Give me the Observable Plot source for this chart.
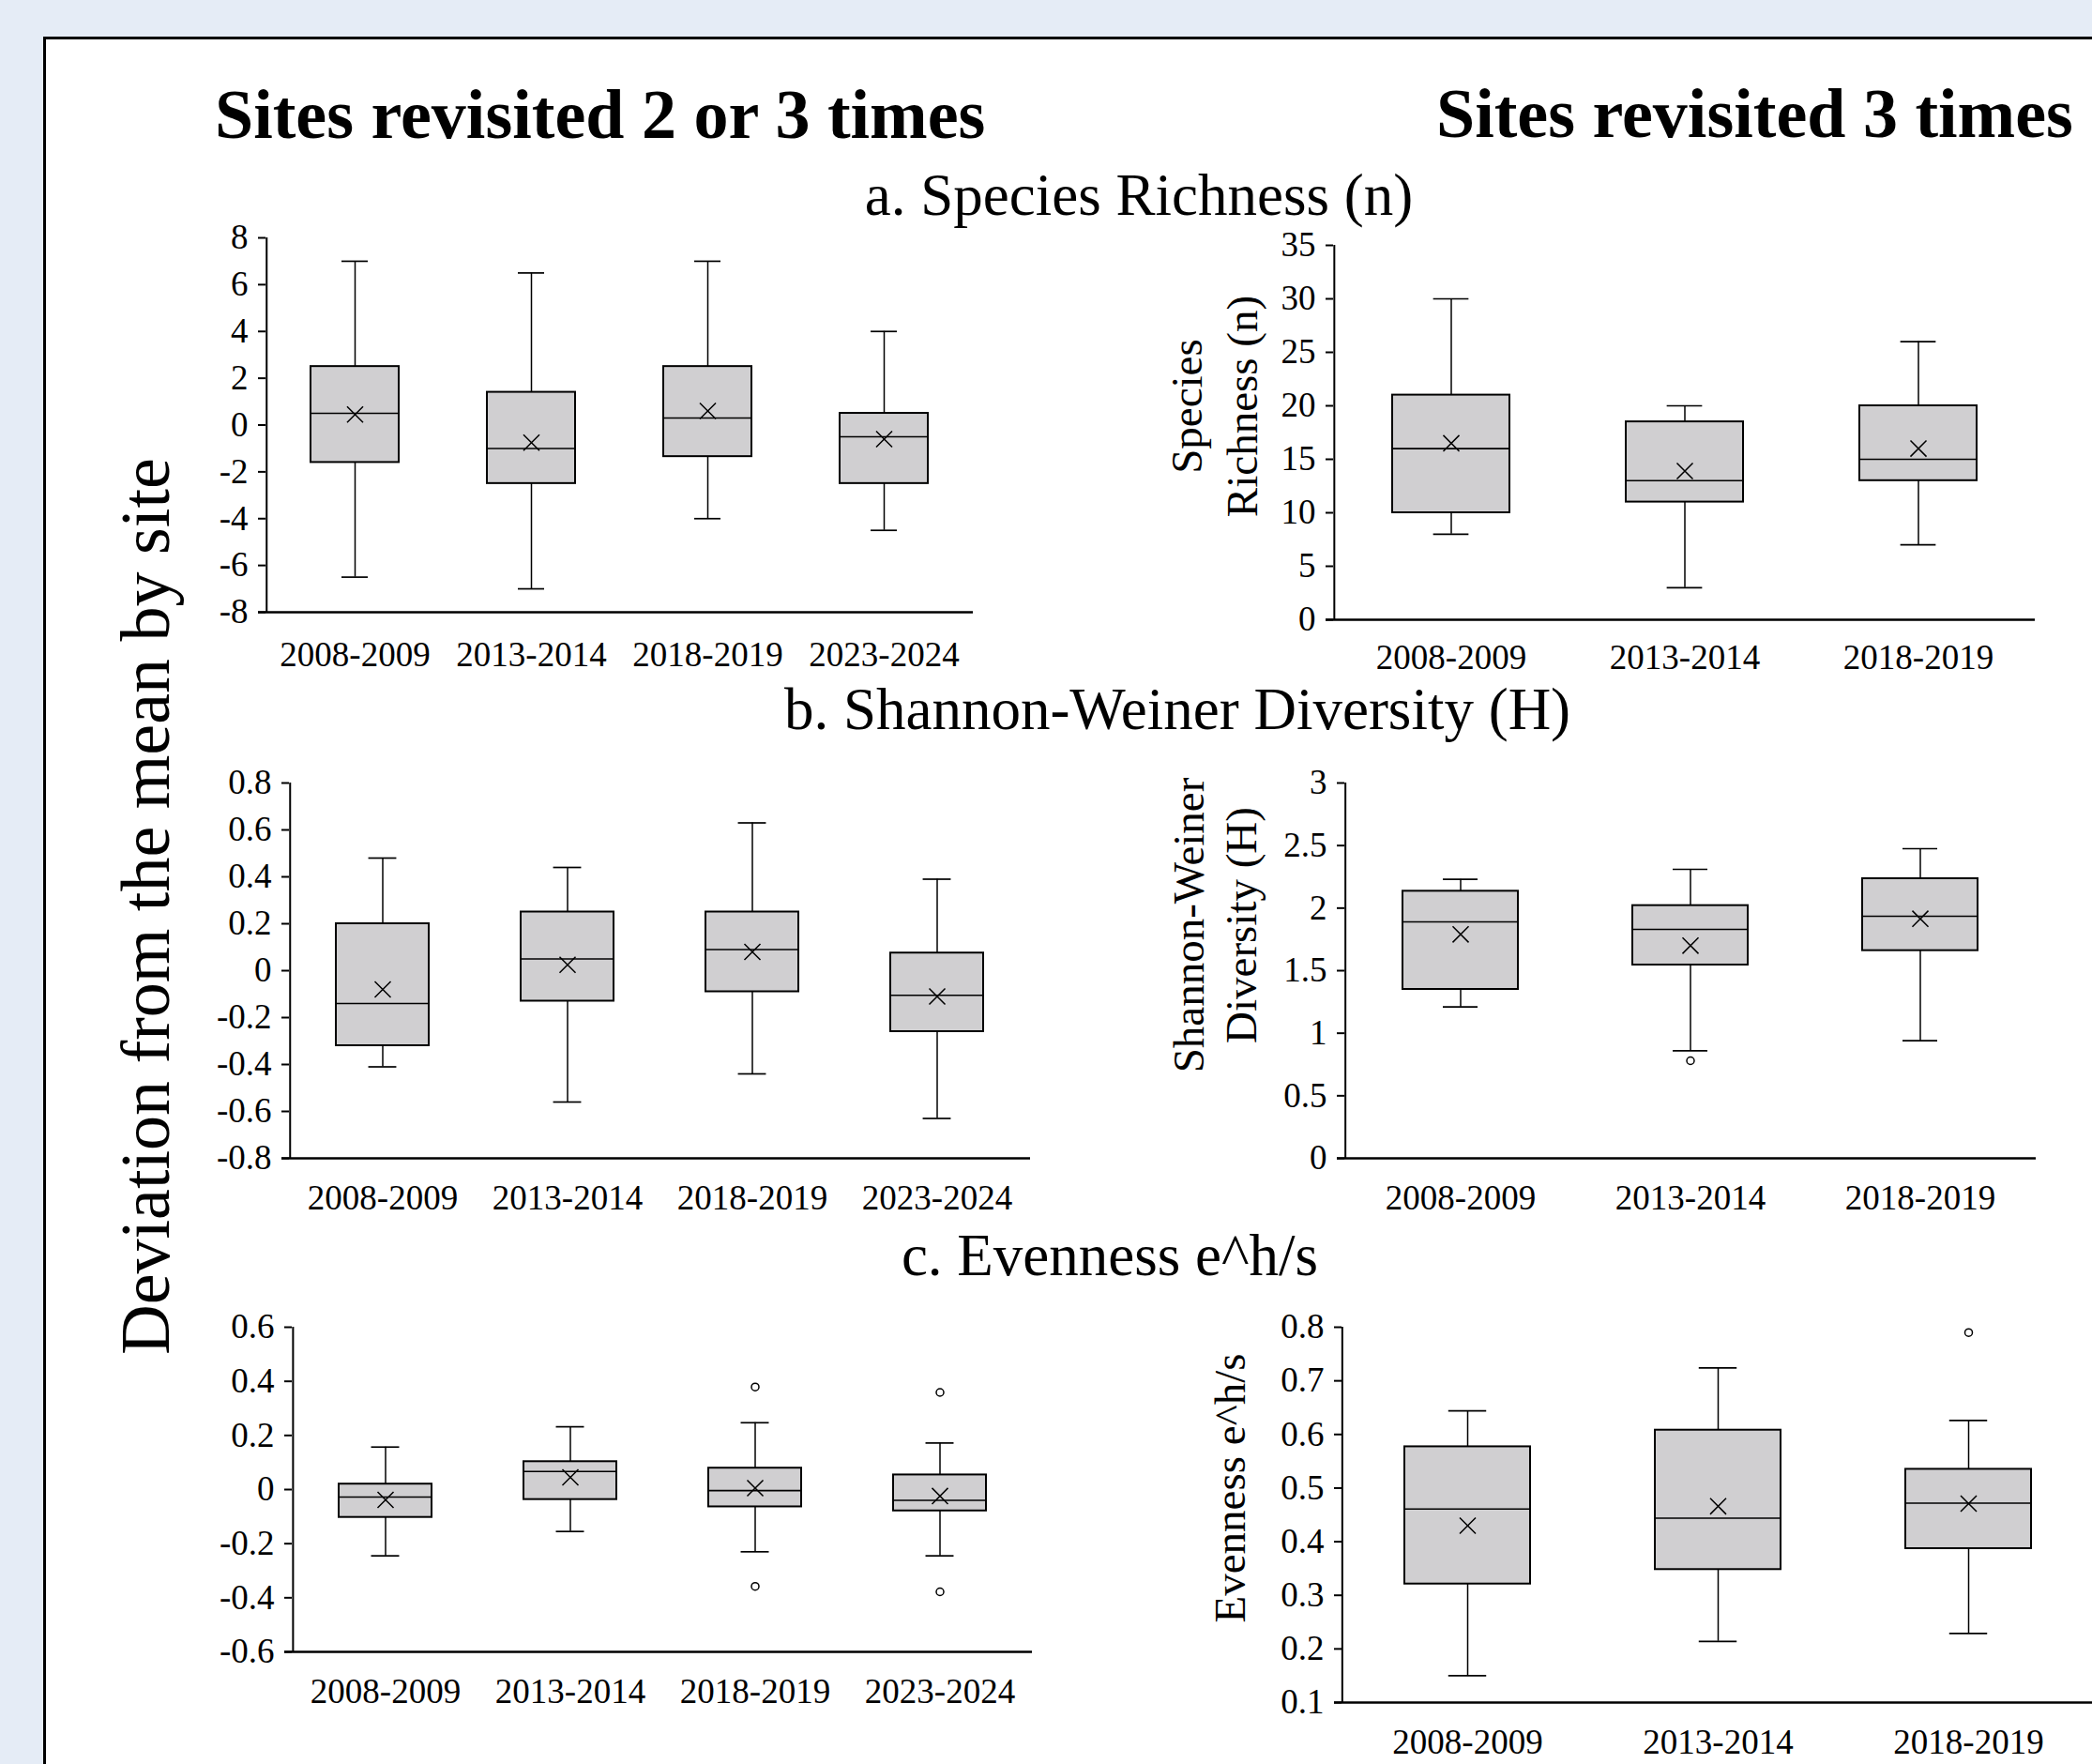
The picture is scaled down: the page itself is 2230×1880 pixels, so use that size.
<!DOCTYPE html>
<html><head><meta charset="utf-8">
<script src="https://cdn.jsdelivr.net/npm/d3@7"></script>
<script src="https://cdn.jsdelivr.net/npm/@observablehq/plot@0.6"></script>
<style>
html,body{margin:0;padding:0;overflow:hidden;background:#e5ecf6;width:2230px;height:1880px;position:relative;}
#frame{position:absolute;left:46px;top:39px;width:2400px;height:2100px;background:#fff;border:3px solid #000;box-sizing:border-box;}
.panel{position:absolute;}
#overlay{position:absolute;left:0;top:0;pointer-events:none;}
</style></head><body>
<div id="frame"></div>
<div id="panels"></div>
<svg id="overlay" width="2230" height="1880"></svg>
<script>
// ---------- DATA ----------
const periods4 = ["2008-2009", "2013-2014", "2018-2019", "2023-2024"];
const periods3 = ["2008-2009", "2013-2014", "2018-2019"];

// a. Species richness — deviation from site mean (sites revisited 2 or 3 times)
const richDev = {
  low:    [-6.5, -7, -4, -4.5],
  q1:     [-1.6, -2.5, -1.35, -2.5],
  median: [0.5, -1, 0.3, -0.5],
  q3:     [2.5, 1.4, 2.5, 0.5],
  high:   [7, 6.5, 7, 4],
  mean:   [0.45, -0.75, 0.6, -0.6]
};
const richDevOutliers = [];
const richDevTicks = [-8, -6, -4, -2, 0, 2, 4, 6, 8];

// a. Species richness (sites revisited 3 times)
const rich3 = {
  low:    [8, 3, 7],
  q1:     [10, 11, 13],
  median: [16, 13, 15],
  q3:     [21, 18.5, 20],
  high:   [30, 20, 26],
  mean:   [16.5, 13.9, 16.0]
};
const rich3Outliers = [];
const rich3Ticks = [0, 5, 10, 15, 20, 25, 30, 35];

// b. Shannon-Weiner diversity — deviation
const shanDev = {
  low:    [-0.41, -0.56, -0.44, -0.63],
  q1:     [-0.32, -0.13, -0.09, -0.26],
  median: [-0.14, 0.05, 0.09, -0.105],
  q3:     [0.2, 0.25, 0.25, 0.075],
  high:   [0.48, 0.44, 0.63, 0.39],
  mean:   [-0.08, 0.025, 0.08, -0.11]
};
const shanDevOutliers = [];
const shanDevTicks = [-0.8, -0.6, -0.4, -0.2, 0, 0.2, 0.4, 0.6, 0.8];

// b. Shannon-Weiner diversity (sites revisited 3 times)
const shan3 = {
  low:    [1.21, 0.86, 0.94],
  q1:     [1.35, 1.545, 1.66],
  median: [1.89, 1.83, 1.935],
  q3:     [2.135, 2.02, 2.235],
  high:   [2.23, 2.31, 2.475],
  mean:   [1.79, 1.70, 1.915]
};
const shan3Outliers = [{period: "2013-2014", value: 0.78}];
const shan3Ticks = [0, 0.5, 1, 1.5, 2, 2.5, 3];

// c. Evenness — deviation
const evenDev = {
  low:    [-0.245, -0.155, -0.23, -0.245],
  q1:     [-0.103, -0.037, -0.064, -0.079],
  median: [-0.028, 0.067, -0.004, -0.04],
  q3:     [0.02, 0.103, 0.079, 0.054],
  high:   [0.157, 0.232, 0.247, 0.172],
  mean:   [-0.038, 0.045, 0.005, -0.024]
};
const evenDevOutliers = [
  {period: "2018-2019", value: 0.379}, {period: "2018-2019", value: -0.358},
  {period: "2023-2024", value: 0.359}, {period: "2023-2024", value: -0.378}
];
const evenDevTicks = [-0.6, -0.4, -0.2, 0, 0.2, 0.4, 0.6];

// c. Evenness (sites revisited 3 times)
const even3 = {
  low:    [0.15, 0.214, 0.229],
  q1:     [0.321, 0.348, 0.387],
  median: [0.461, 0.444, 0.472],
  q3:     [0.577, 0.608, 0.535],
  high:   [0.644, 0.724, 0.626],
  mean:   [0.43, 0.466, 0.471]
};
const even3Outliers = [{period: "2018-2019", value: 0.79}];
const even3Ticks = [0.1, 0.2, 0.3, 0.4, 0.5, 0.6, 0.7, 0.8];

// ---------- LAYOUT ----------
const panels = [
  {cats: periods4, stats: richDev, outliers: richDevOutliers, domain: [-8, 8], ticks: richDevTicks, x0: 283, x1: 1037, y0: 253, y1: 652, pad: 31},
  {cats: periods3, stats: rich3, outliers: rich3Outliers, domain: [0, 35], ticks: rich3Ticks, x0: 1421, x1: 2169, y0: 261, y1: 660, pad: 26},
  {cats: periods4, stats: shanDev, outliers: shanDevOutliers, domain: [-0.8, 0.8], ticks: shanDevTicks, x0: 308, x1: 1098, y0: 834, y1: 1234, pad: 28},
  {cats: periods3, stats: shan3, outliers: shan3Outliers, domain: [0, 3], ticks: shan3Ticks, x0: 1433, x1: 2170, y0: 834, y1: 1234, pad: 28},
  {cats: periods4, stats: evenDev, outliers: evenDevOutliers, domain: [-0.6, 0.6], ticks: evenDevTicks, x0: 311, x1: 1100, y0: 1414, y1: 1760, pad: 28},
  {cats: periods3, stats: even3, outliers: even3Outliers, domain: [0.1, 0.8], ticks: even3Ticks, x0: 1430, x1: 2232, y0: 1414, y1: 1814, pad: 28}
];

const FONT = "'Liberation Serif', 'Times New Roman', Times, serif";

function rows(cats, s) {
  return cats.map((c, i) => ({period: c, low: s.low[i], q1: s.q1[i], median: s.median[i], q3: s.q3[i], high: s.high[i], mean: s.mean[i]}));
}

function drawPanel(p) {
  const ml = 95, mr = 12, mt = 22, mb = 75;
  const w = p.x1 - p.x0, h = p.y1 - p.y0;
  const step = w / p.cats.length;
  const capInset = 0.175 * step;
  const data = rows(p.cats, p.stats);
  const chart = Plot.plot({
    width: w + ml + mr, height: h + mt + mb,
    marginLeft: ml, marginRight: mr, marginTop: mt, marginBottom: mb,
    style: {fontFamily: FONT, fontSize: "37px", color: "#000", background: "transparent", overflow: "visible", maxWidth: "none"},
    x: {type: "band", domain: p.cats, paddingInner: 0.5, paddingOuter: 0.25, label: null},
    y: {domain: p.domain, label: null},
    marks: [
      Plot.ruleX(data, {x: "period", y1: "low", y2: "high", stroke: "#000", strokeWidth: 1.5}),
      Plot.barY(data, {x: "period", y1: "q1", y2: "q3", fill: "#d0cfd1", stroke: "#000", strokeWidth: 2}),
      Plot.tickY(data, {x: "period", y: "median", stroke: "#000", strokeWidth: 1.6}),
      Plot.tickY(data, {x: "period", y: "low", insetLeft: capInset, insetRight: capInset, stroke: "#000", strokeWidth: 1.7}),
      Plot.tickY(data, {x: "period", y: "high", insetLeft: capInset, insetRight: capInset, stroke: "#000", strokeWidth: 1.7}),
      Plot.dot(data, {x: "period", y: "mean", symbol: "times", r: 7.8, stroke: "#000", strokeWidth: 1.5}),
      Plot.dot(p.outliers, {x: "period", y: "value", r: 4, stroke: "#000", fill: "#fff", strokeWidth: 1.5}),
      Plot.ruleY([p.domain[0]], {stroke: "#000", strokeWidth: 2.5, insetLeft: -8}),
      Plot.ruleX([p.cats[0]], {x: d => d, dx: -step / 2, stroke: "#000", strokeWidth: 2}),
      Plot.axisY({ticks: p.ticks, tickSize: 8, tickPadding: 11, tickFormat: d => String(d), label: null, strokeWidth: 2}),
      Plot.axisX({tickSize: 0, tickPadding: p.pad, label: null})
    ]
  });
  const div = document.createElement("div");
  div.className = "panel";
  div.style.left = (p.x0 - ml) + "px";
  div.style.top = (p.y0 - mt) + "px";
  div.appendChild(chart);
  document.getElementById("panels").appendChild(div);
}
panels.forEach(drawPanel);

// ---------- TEXT ----------
const ov = d3.select("#overlay").attr("font-family", FONT).attr("fill", "#000");
function label(x, y, text, size, opts = {}) {
  const t = ov.append("text")
    .attr("x", x).attr("y", y)
    .attr("font-size", size)
    .attr("text-anchor", opts.anchor || "middle")
    .attr("font-weight", opts.bold ? "bold" : "normal")
    .text(text);
  if (opts.rotate) t.attr("transform", `rotate(-90 ${x} ${y})`);
  return t;
}
label(229, 147, "Sites revisited 2 or 3 times", 74, {bold: true, anchor: "start"});
label(1531, 146, "Sites revisited 3 times", 74, {bold: true, anchor: "start"});
label(1214, 229, "a. Species Richness (n)", 63);
label(1255, 777, "b. Shannon-Weiner Diversity (H)", 63);
label(1183, 1359, "c. Evenness e^h/s", 63);
label(180, 966, "Deviation from the mean by site", 74, {rotate: true});
label(1281, 433, "Species", 47, {rotate: true});
label(1340, 433, "Richness (n)", 47, {rotate: true});
label(1283, 986, "Shannon-Weiner", 47, {rotate: true});
label(1339, 986, "Diversity (H)", 47, {rotate: true});
label(1327, 1586, "Evenness e^h/s", 47, {rotate: true});
</script>
</body></html>
